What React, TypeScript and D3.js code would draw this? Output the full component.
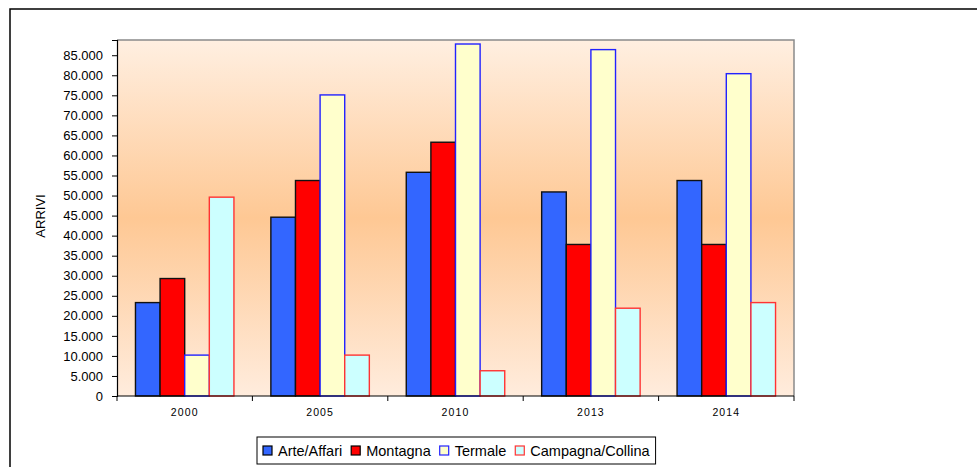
import React, { useRef, useEffect } from 'react';
import * as d3 from 'd3';

const years = ['2000', '2005', '2010', '2013', '2014'];
const seriesNames = ['Arte/Affari', 'Montagna', 'Termale', 'Campagna/Collina'];
const arteAffari = [23300, 44600, 55800, 50900, 53750];
const montagna = [29300, 53750, 63300, 37800, 37800];
const termale = [10200, 75100, 87800, 86400, 80400];
const campagnaCollina = [49600, 10200, 6300, 21900, 23300];
const yTicks = d3.range(0, 85001, 5000);

const fills = ['#3366FF', '#FF0000', '#FFFFCC', '#CCFFFF'];
const strokes = ['#111111', '#111111', '#2222FF', '#FF3333'];

const App = () => {
    const svgRef = useRef<SVGSVGElement>(null);

    const W = 977;
    const H = 467;
    const margin = { top: 40, right: 183, bottom: 71, left: 117 };
    const width = W - margin.left - margin.right;
    const height = H - margin.top - margin.bottom;

    useEffect(() => {
        const svg = d3.select(svgRef.current);
        svg.selectAll('*').remove();

        const font = "'Liberation Sans', Arial, sans-serif";
        const values = [arteAffari, montagna, termale, campagnaCollina];

        // background gradient
        const defs = svg.append('defs');
        const grad = defs.append('linearGradient')
            .attr('id', 'bg')
            .attr('x1', 0).attr('y1', 0).attr('x2', 0).attr('y2', 1);
        grad.append('stop').attr('offset', '0%').attr('stop-color', '#FFEFE1');
        grad.append('stop').attr('offset', '50%').attr('stop-color', '#FEC894');
        grad.append('stop').attr('offset', '100%').attr('stop-color', '#FFECDD');

        // outer frame
        svg.append('rect')
            .attr('x', 10).attr('y', 9)
            .attr('width', 1000).attr('height', 500)
            .attr('fill', '#fff')
            .attr('stroke', '#000')
            .attr('stroke-width', 1.5);

        const x0 = d3.scaleBand().domain(years).range([0, width]).paddingInner(0).paddingOuter(0);
        const x1 = d3.scaleBand().domain(seriesNames).range([0, x0.bandwidth()]).paddingInner(0).paddingOuter(0.75);
        const y = d3.scaleLinear().domain([0, 88800]).range([height, 0]);

        const chart = svg.append('g')
            .attr('transform', `translate(${margin.left}, ${margin.top})`);

        chart.append('rect')
            .attr('width', width)
            .attr('height', height)
            .attr('fill', 'url(#bg)');

        // plot border (top + right)
        chart.append('path')
            .attr('d', `M0,0H${width}V${height}`)
            .attr('fill', 'none')
            .attr('stroke', '#8a8a8a')
            .attr('stroke-width', 1.5);

        // bars
        const groups = chart.selectAll('.grp')
            .data(years)
            .enter()
            .append('g')
            .attr('transform', (d) => `translate(${x0(d)},0)`);

        groups.selectAll('rect')
            .data((d, i) => seriesNames.map((s, j) => ({ s, j, v: values[j][i] })))
            .enter()
            .append('rect')
            .attr('x', (d) => x1(d.s)!)
            .attr('width', x1.bandwidth())
            .attr('y', (d) => y(d.v))
            .attr('height', (d) => height - y(d.v))
            .attr('fill', (d) => fills[d.j])
            .attr('stroke', (d) => strokes[d.j])
            .attr('stroke-width', 1.4);

        // y axis
        const fmt = (d: number) => (d === 0 ? '0' : d3.format(',')(d).replace(/,/g, '.'));
        const yAxis = chart.append('g')
            .call(d3.axisLeft(y).tickValues(yTicks).tickFormat(fmt as any).tickSize(5).tickPadding(9));
        yAxis.select('.domain').attr('stroke', '#000').attr('stroke-width', 1.2);
        yAxis.selectAll('.tick line').attr('stroke', '#000');
        yAxis.selectAll('text')
            .attr('font-family', font)
            .attr('font-size', 13)
            .attr('fill', '#000');

        // x axis
        const tickPos = years.map((d) => x0(d)!).concat([width]);
        const xAxisG = chart.append('g').attr('transform', `translate(0, ${height})`);
        xAxisG.append('line')
            .attr('x1', 0).attr('x2', width)
            .attr('stroke', '#000').attr('stroke-width', 1.2);
        xAxisG.selectAll('.xt')
            .data(tickPos)
            .enter()
            .append('line')
            .attr('x1', (d) => d).attr('x2', (d) => d)
            .attr('y1', 0).attr('y2', 5)
            .attr('stroke', '#000');
        xAxisG.selectAll('.xl')
            .data(years)
            .enter()
            .append('text')
            .attr('x', (d) => x0(d)! + x0.bandwidth() / 2)
            .attr('y', 20)
            .attr('text-anchor', 'middle')
            .attr('font-family', font)
            .attr('font-size', 10.5)
            .attr('letter-spacing', 1.1)
            .attr('fill', '#000')
            .text((d) => d);

        // y axis title
        svg.append('text')
            .attr('transform', `translate(45, ${margin.top + height / 2 - 2}) rotate(-90)`)
            .attr('text-anchor', 'middle')
            .attr('font-family', font)
            .attr('font-size', 13)
            .attr('fill', '#000')
            .text('ARRIVI');

        // legend
        const legend = svg.append('g');
        const box = legend.append('rect')
            .attr('y', 437).attr('height', 27)
            .attr('fill', '#fff')
            .attr('stroke', '#000')
            .attr('stroke-width', 1);
        let lx = 263;
        seriesNames.forEach((s, j) => {
            legend.append('rect')
                .attr('x', lx).attr('y', 446)
                .attr('width', 9).attr('height', 9)
                .attr('fill', fills[j])
                .attr('stroke', j < 2 ? '#000' : strokes[j])
                .attr('stroke-width', 1.2);
            const t = legend.append('text')
                .attr('x', lx + 15).attr('y', 456)
                .attr('font-family', font)
                .attr('font-size', 14.5)
                .attr('fill', '#000')
                .text(s);
            const tw = (t.node() as SVGTextElement).getComputedTextLength();
            lx += 15 + tw + 9;
        });
        box.attr('x', 257).attr('width', lx - 257 - 3);
    }, []);

    return (
        <div style={{ position: 'absolute', left: 0, top: 0 }}>
            <svg ref={svgRef} width={W} height={H} style={{ display: 'block' }}></svg>
        </div>
    );
};

export default App;
